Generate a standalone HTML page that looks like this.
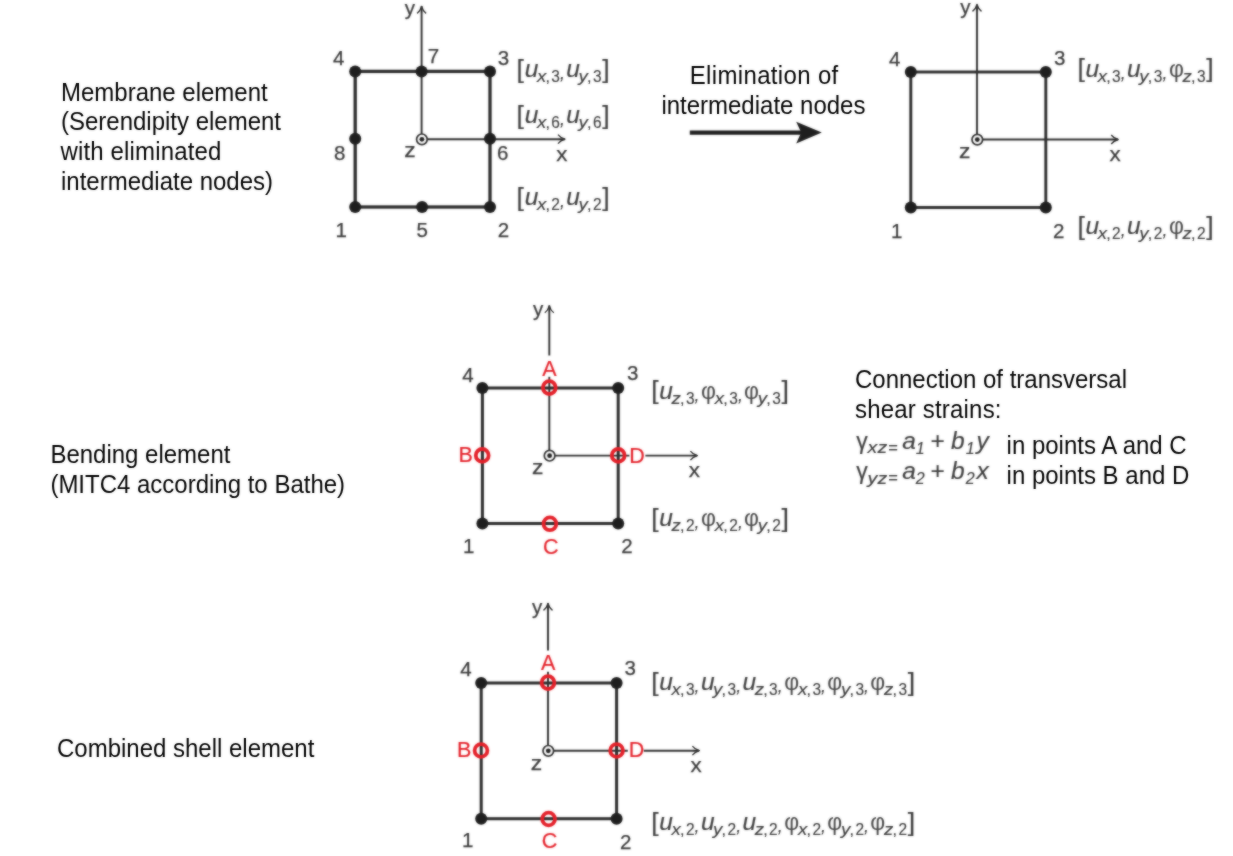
<!DOCTYPE html>
<html lang="en">
<head>
<meta charset="utf-8">
<title>Shell element formulation</title>
<style>
html,body{margin:0;padding:0;background:#ffffff;}
body{width:1233px;height:856px;overflow:hidden;font-family:"Liberation Sans",sans-serif;}
svg{display:block;position:absolute;left:0;top:0;}
svg text{font-family:"Liberation Sans",sans-serif;}
svg text[fill="#3a3a3a"]{stroke:#3a3a3a;stroke-width:0.15px;}
svg text[fill="#383838"]{stroke:#383838;stroke-width:0.25px;}
svg text[fill="#e41f28"]{stroke:#e41f28;stroke-width:0.2px;}
</style>
</head>
<body>
<svg width="1233" height="856" viewBox="0 0 1233 856">
<defs><filter id="soft" x="-2%" y="-2%" width="104%" height="104%" color-interpolation-filters="sRGB"><feGaussianBlur in="SourceGraphic" stdDeviation="0.85" result="b"/><feComposite in="b" in2="SourceGraphic" operator="arithmetic" k1="0" k2="0.6" k3="0.4" k4="0"/></filter><filter id="soft2" x="-2%" y="-2%" width="104%" height="104%" color-interpolation-filters="sRGB"><feGaussianBlur in="SourceGraphic" stdDeviation="0.85" result="b"/><feComposite in="b" in2="SourceGraphic" operator="arithmetic" k1="0" k2="0.4" k3="0.6" k4="0"/></filter></defs>
<rect x="0" y="0" width="1233" height="856" fill="#ffffff"/>
<g filter="url(#soft2)">
<text transform="translate(61.0 100.8) scale(1 1.07)" x="0" y="0" font-size="24" fill="#050505">Membrane element</text>
<text transform="translate(61.0 130.4) scale(1 1.07)" x="0" y="0" font-size="24" fill="#050505">(Serendipity element</text>
<text transform="translate(60.4 160.2) scale(1 1.07)" x="0" y="0" font-size="24" fill="#050505" textLength="161" lengthAdjust="spacing">with eliminated</text>
<text transform="translate(61.0 190.0) scale(1 1.07)" x="0" y="0" font-size="24" fill="#050505">intermediate nodes)</text>
<text transform="translate(764.0 83.8) scale(1 1.07)" x="0" y="0" font-size="24" fill="#050505" text-anchor="middle" textLength="148.5" lengthAdjust="spacing">Elimination of</text>
<text transform="translate(763.4 113.8) scale(1 1.07)" x="0" y="0" font-size="24" fill="#050505" text-anchor="middle">intermediate nodes</text>
<text transform="translate(50.4 463.0) scale(1 1.07)" x="0" y="0" font-size="24" fill="#050505">Bending element</text>
<text transform="translate(50.4 493.2) scale(1 1.07)" x="0" y="0" font-size="24" fill="#050505">(MITC4 according to Bathe)</text>
<text transform="translate(855.0 388.0) scale(1 1.07)" x="0" y="0" font-size="24" fill="#050505">Connection of transversal</text>
<text transform="translate(855.0 418.2) scale(1 1.07)" x="0" y="0" font-size="24" fill="#050505" textLength="146.5" lengthAdjust="spacing">shear strains:</text>
<text transform="translate(1006.6 453.8) scale(1 1.07)" x="0" y="0" font-size="24" fill="#050505">in points A and C</text>
<text transform="translate(1006.6 483.8) scale(1 1.07)" x="0" y="0" font-size="24" fill="#050505">in points B and D</text>
<text transform="translate(57.0 757.0) scale(1 1.07)" x="0" y="0" font-size="24" fill="#050505">Combined shell element</text>
</g>
<g filter="url(#soft)">
<line x1="421.6" y1="6" x2="421.6" y2="139.2" stroke="#2c2c2c" stroke-width="1.9"/>
<path d="M417.1 13.399999999999999 Q420.40000000000003 10.899999999999999 421.6 6.3999999999999995 Q422.8 10.899999999999999 426.1 13.399999999999999" fill="none" stroke="#2c2c2c" stroke-width="1.35" stroke-linejoin="round"/>
<line x1="421.6" y1="139.2" x2="565" y2="139.2" stroke="#2c2c2c" stroke-width="1.9"/>
<path d="M558.0 134.7 Q560.5 138.0 565.0 139.2 Q560.5 140.39999999999998 558.0 143.7" fill="none" stroke="#2c2c2c" stroke-width="1.35" stroke-linejoin="round"/>
<rect x="355.2" y="71.4" width="134.80" height="135.60" fill="none" stroke="#2b2b2b" stroke-width="3.3"/>
<circle cx="355.2" cy="71.4" r="6.0" fill="#1e1e1e"/>
<circle cx="421.6" cy="71.4" r="6.0" fill="#1e1e1e"/>
<circle cx="490.0" cy="71.4" r="6.0" fill="#1e1e1e"/>
<circle cx="355.2" cy="138.79999999999998" r="6.0" fill="#1e1e1e"/>
<circle cx="490.0" cy="138.79999999999998" r="6.0" fill="#1e1e1e"/>
<circle cx="355.2" cy="207.0" r="6.0" fill="#1e1e1e"/>
<circle cx="422.1" cy="207.0" r="6.0" fill="#1e1e1e"/>
<circle cx="490.0" cy="207.0" r="6.0" fill="#1e1e1e"/>
<circle cx="421.90000000000003" cy="139.29999999999998" r="5.3" fill="#fff" stroke="#2c2c2c" stroke-width="1.7"/>
<circle cx="421.90000000000003" cy="139.29999999999998" r="2.4" fill="#1e1e1e"/>
<text x="409.8" y="15.4" font-size="20.5" fill="#383838" text-anchor="middle">y</text>
<text x="338.6" y="65.05" font-size="20.5" fill="#383838" text-anchor="middle">4</text>
<text x="433.4" y="63.25" font-size="20.5" fill="#383838" text-anchor="middle">7</text>
<text x="503.4" y="64.85" font-size="20.5" fill="#383838" text-anchor="middle">3</text>
<text x="339.6" y="160.05" font-size="20.5" fill="#383838" text-anchor="middle">8</text>
<text x="502.8" y="160.45" font-size="20.5" fill="#383838" text-anchor="middle">6</text>
<text x="410.0" y="157.01" font-size="20.5" fill="#383838" text-anchor="middle" textLength="11.4" lengthAdjust="spacingAndGlyphs">z</text>
<text x="561.8" y="160.81" font-size="20.5" fill="#383838" text-anchor="middle" textLength="11.2" lengthAdjust="spacingAndGlyphs">x</text>
<text x="341.2" y="237.45" font-size="20.5" fill="#383838" text-anchor="middle">1</text>
<text x="422.2" y="237.45" font-size="20.5" fill="#383838" text-anchor="middle">5</text>
<text x="503.4" y="237.45" font-size="20.5" fill="#383838" text-anchor="middle">2</text>
<text x="516.60" y="77.60" font-size="26.6" fill="#3a3a3a">[</text>
<text x="524.70" y="76.8" font-size="24.5" font-style="italic" fill="#3a3a3a">u</text>
<text x="536.90" y="82.20" font-size="17.0" font-style="italic" fill="#3a3a3a" textLength="9.3" lengthAdjust="spacingAndGlyphs">x</text>
<text x="545.40" y="82.20" font-size="16.2" fill="#3a3a3a">,</text>
<text x="551.30" y="82.20" font-size="16.2" fill="#3a3a3a" textLength="8.6" lengthAdjust="spacingAndGlyphs">3</text>
<text x="560.00" y="78.80" font-size="18" font-style="italic" fill="#3a3a3a">,</text>
<text x="566.30" y="76.8" font-size="24.5" font-style="italic" fill="#3a3a3a">u</text>
<text x="578.50" y="82.20" font-size="17.0" font-style="italic" fill="#3a3a3a" textLength="9.3" lengthAdjust="spacingAndGlyphs">y</text>
<text x="587.00" y="82.20" font-size="16.2" fill="#3a3a3a">,</text>
<text x="592.90" y="82.20" font-size="16.2" fill="#3a3a3a" textLength="8.6" lengthAdjust="spacingAndGlyphs">3</text>
<text x="602.20" y="77.60" font-size="26.6" fill="#3a3a3a">]</text>
<text x="516.60" y="123.80" font-size="26.6" fill="#3a3a3a">[</text>
<text x="524.70" y="123.0" font-size="24.5" font-style="italic" fill="#3a3a3a">u</text>
<text x="536.90" y="128.40" font-size="17.0" font-style="italic" fill="#3a3a3a" textLength="9.3" lengthAdjust="spacingAndGlyphs">x</text>
<text x="545.40" y="128.40" font-size="16.2" fill="#3a3a3a">,</text>
<text x="551.30" y="128.40" font-size="16.2" fill="#3a3a3a" textLength="8.6" lengthAdjust="spacingAndGlyphs">6</text>
<text x="560.00" y="125.00" font-size="18" font-style="italic" fill="#3a3a3a">,</text>
<text x="566.30" y="123.0" font-size="24.5" font-style="italic" fill="#3a3a3a">u</text>
<text x="578.50" y="128.40" font-size="17.0" font-style="italic" fill="#3a3a3a" textLength="9.3" lengthAdjust="spacingAndGlyphs">y</text>
<text x="587.00" y="128.40" font-size="16.2" fill="#3a3a3a">,</text>
<text x="592.90" y="128.40" font-size="16.2" fill="#3a3a3a" textLength="8.6" lengthAdjust="spacingAndGlyphs">6</text>
<text x="602.20" y="123.80" font-size="26.6" fill="#3a3a3a">]</text>
<text x="516.60" y="205.80" font-size="26.6" fill="#3a3a3a">[</text>
<text x="524.70" y="205.0" font-size="24.5" font-style="italic" fill="#3a3a3a">u</text>
<text x="536.90" y="210.40" font-size="17.0" font-style="italic" fill="#3a3a3a" textLength="9.3" lengthAdjust="spacingAndGlyphs">x</text>
<text x="545.40" y="210.40" font-size="16.2" fill="#3a3a3a">,</text>
<text x="551.30" y="210.40" font-size="16.2" fill="#3a3a3a" textLength="8.6" lengthAdjust="spacingAndGlyphs">2</text>
<text x="560.00" y="207.00" font-size="18" font-style="italic" fill="#3a3a3a">,</text>
<text x="566.30" y="205.0" font-size="24.5" font-style="italic" fill="#3a3a3a">u</text>
<text x="578.50" y="210.40" font-size="17.0" font-style="italic" fill="#3a3a3a" textLength="9.3" lengthAdjust="spacingAndGlyphs">y</text>
<text x="587.00" y="210.40" font-size="16.2" fill="#3a3a3a">,</text>
<text x="592.90" y="210.40" font-size="16.2" fill="#3a3a3a" textLength="8.6" lengthAdjust="spacingAndGlyphs">2</text>
<text x="602.20" y="205.80" font-size="26.6" fill="#3a3a3a">]</text>
<line x1="977.0" y1="4.6" x2="977.0" y2="139.5" stroke="#2c2c2c" stroke-width="1.9"/>
<path d="M972.5 11.4 Q975.8 8.9 977.0 4.4 Q978.2 8.9 981.5 11.4" fill="none" stroke="#2c2c2c" stroke-width="1.35" stroke-linejoin="round"/>
<line x1="977.0" y1="139.5" x2="1118" y2="139.5" stroke="#2c2c2c" stroke-width="1.9"/>
<path d="M1111.2 135.0 Q1113.7 138.3 1118.2 139.5 Q1113.7 140.7 1111.2 144.0" fill="none" stroke="#2c2c2c" stroke-width="1.35" stroke-linejoin="round"/>
<rect x="910.8" y="72.0" width="135.00" height="135.50" fill="none" stroke="#2b2b2b" stroke-width="2.9"/>
<circle cx="910.8" cy="72.0" r="6.0" fill="#1e1e1e"/>
<circle cx="1045.8" cy="72.0" r="6.0" fill="#1e1e1e"/>
<circle cx="910.8" cy="207.5" r="6.0" fill="#1e1e1e"/>
<circle cx="1045.8" cy="207.5" r="6.0" fill="#1e1e1e"/>
<circle cx="977.3" cy="139.6" r="5.3" fill="#fff" stroke="#2c2c2c" stroke-width="1.7"/>
<circle cx="977.3" cy="139.6" r="2.4" fill="#1e1e1e"/>
<text x="965.4" y="14.4" font-size="20.5" fill="#383838" text-anchor="middle">y</text>
<text x="894.8" y="65.65" font-size="20.5" fill="#383838" text-anchor="middle">4</text>
<text x="1059.6" y="65.05" font-size="20.5" fill="#383838" text-anchor="middle">3</text>
<text x="964.8" y="158.41" font-size="20.5" fill="#383838" text-anchor="middle" textLength="11.4" lengthAdjust="spacingAndGlyphs">z</text>
<text x="1115.2" y="160.81" font-size="20.5" fill="#383838" text-anchor="middle" textLength="11.2" lengthAdjust="spacingAndGlyphs">x</text>
<text x="896.6" y="237.65" font-size="20.5" fill="#383838" text-anchor="middle">1</text>
<text x="1058.8" y="237.65" font-size="20.5" fill="#383838" text-anchor="middle">2</text>
<text x="1077.40" y="77.40" font-size="26.6" fill="#3a3a3a">[</text>
<text x="1085.50" y="76.6" font-size="24.5" font-style="italic" fill="#3a3a3a">u</text>
<text x="1097.70" y="82.00" font-size="17.0" font-style="italic" fill="#3a3a3a" textLength="9.3" lengthAdjust="spacingAndGlyphs">x</text>
<text x="1106.20" y="82.00" font-size="16.2" fill="#3a3a3a">,</text>
<text x="1112.10" y="82.00" font-size="16.2" fill="#3a3a3a" textLength="8.6" lengthAdjust="spacingAndGlyphs">3</text>
<text x="1120.80" y="78.60" font-size="18" font-style="italic" fill="#3a3a3a">,</text>
<text x="1127.10" y="76.6" font-size="24.5" font-style="italic" fill="#3a3a3a">u</text>
<text x="1139.30" y="82.00" font-size="17.0" font-style="italic" fill="#3a3a3a" textLength="9.3" lengthAdjust="spacingAndGlyphs">y</text>
<text x="1147.80" y="82.00" font-size="16.2" fill="#3a3a3a">,</text>
<text x="1153.70" y="82.00" font-size="16.2" fill="#3a3a3a" textLength="8.6" lengthAdjust="spacingAndGlyphs">3</text>
<text x="1162.40" y="78.60" font-size="18" font-style="italic" fill="#3a3a3a">,</text>
<text x="1168.90" y="76.6" font-size="23.0" fill="#444444">&#966;</text>
<text x="1182.60" y="82.00" font-size="17.0" font-style="italic" fill="#3a3a3a" textLength="9.3" lengthAdjust="spacingAndGlyphs">z</text>
<text x="1191.10" y="82.00" font-size="16.2" fill="#3a3a3a">,</text>
<text x="1197.00" y="82.00" font-size="16.2" fill="#3a3a3a" textLength="8.6" lengthAdjust="spacingAndGlyphs">3</text>
<text x="1206.30" y="77.40" font-size="26.6" fill="#3a3a3a">]</text>
<text x="1077.40" y="234.80" font-size="26.6" fill="#3a3a3a">[</text>
<text x="1085.50" y="234.0" font-size="24.5" font-style="italic" fill="#3a3a3a">u</text>
<text x="1097.70" y="239.40" font-size="17.0" font-style="italic" fill="#3a3a3a" textLength="9.3" lengthAdjust="spacingAndGlyphs">x</text>
<text x="1106.20" y="239.40" font-size="16.2" fill="#3a3a3a">,</text>
<text x="1112.10" y="239.40" font-size="16.2" fill="#3a3a3a" textLength="8.6" lengthAdjust="spacingAndGlyphs">2</text>
<text x="1120.80" y="236.00" font-size="18" font-style="italic" fill="#3a3a3a">,</text>
<text x="1127.10" y="234.0" font-size="24.5" font-style="italic" fill="#3a3a3a">u</text>
<text x="1139.30" y="239.40" font-size="17.0" font-style="italic" fill="#3a3a3a" textLength="9.3" lengthAdjust="spacingAndGlyphs">y</text>
<text x="1147.80" y="239.40" font-size="16.2" fill="#3a3a3a">,</text>
<text x="1153.70" y="239.40" font-size="16.2" fill="#3a3a3a" textLength="8.6" lengthAdjust="spacingAndGlyphs">2</text>
<text x="1162.40" y="236.00" font-size="18" font-style="italic" fill="#3a3a3a">,</text>
<text x="1168.90" y="234.0" font-size="23.0" fill="#444444">&#966;</text>
<text x="1182.60" y="239.40" font-size="17.0" font-style="italic" fill="#3a3a3a" textLength="9.3" lengthAdjust="spacingAndGlyphs">z</text>
<text x="1191.10" y="239.40" font-size="16.2" fill="#3a3a3a">,</text>
<text x="1197.00" y="239.40" font-size="16.2" fill="#3a3a3a" textLength="8.6" lengthAdjust="spacingAndGlyphs">2</text>
<text x="1206.30" y="234.80" font-size="26.6" fill="#3a3a3a">]</text>
<line x1="689.8" y1="132.6" x2="802" y2="132.6" stroke="#1e1e1e" stroke-width="4.2"/>
<path d="M821.8 132.6 L796.2 121.8 L801.2 132.6 L796.2 143.6 Z" fill="#1e1e1e"/>
<line x1="549.3" y1="305.5" x2="549.3" y2="355.5" stroke="#2c2c2c" stroke-width="1.9"/>
<path d="M544.8 312.8 Q548.0999999999999 310.3 549.3 305.8 Q550.5 310.3 553.8 312.8" fill="none" stroke="#2c2c2c" stroke-width="1.35" stroke-linejoin="round"/>
<line x1="549.3" y1="376.8" x2="549.3" y2="455.6" stroke="#2c2c2c" stroke-width="1.9"/>
<line x1="549.3" y1="455.6" x2="629.4000000000001" y2="455.6" stroke="#2c2c2c" stroke-width="1.9"/>
<line x1="645.4000000000001" y1="455.6" x2="697.0" y2="455.6" stroke="#2c2c2c" stroke-width="1.9"/>
<path d="M690.4 451.1 Q692.9 454.40000000000003 697.4 455.6 Q692.9 456.8 690.4 460.1" fill="none" stroke="#2c2c2c" stroke-width="1.35" stroke-linejoin="round"/>
<rect x="482.4" y="388.0" width="135.80" height="135.50" fill="none" stroke="#2b2b2b" stroke-width="3.0"/>
<circle cx="482.4" cy="388.0" r="6.0" fill="#1e1e1e"/>
<circle cx="618.2" cy="388.0" r="6.0" fill="#1e1e1e"/>
<circle cx="482.4" cy="523.5" r="6.0" fill="#1e1e1e"/>
<circle cx="618.2" cy="523.5" r="6.0" fill="#1e1e1e"/>
<circle cx="549.5999999999999" cy="455.70000000000005" r="5.3" fill="#fff" stroke="#2c2c2c" stroke-width="1.7"/>
<circle cx="549.5999999999999" cy="455.70000000000005" r="2.4" fill="#1e1e1e"/>
<circle cx="549.3" cy="387.6" r="6.4" fill="none" stroke="#e41f28" stroke-width="3.8"/>
<circle cx="482.2" cy="455.40000000000003" r="6.4" fill="none" stroke="#e41f28" stroke-width="3.8"/>
<circle cx="618.2" cy="455.40000000000003" r="6.4" fill="none" stroke="#e41f28" stroke-width="3.8"/>
<circle cx="549.9" cy="523.8" r="6.4" fill="none" stroke="#e41f28" stroke-width="3.8"/>
<text x="538.2" y="316.4" font-size="20.5" fill="#383838" text-anchor="middle">y</text>
<text x="549.4" y="375.6" font-size="21.5" fill="#e41f28" text-anchor="middle">A</text>
<text x="468.0" y="381.85" font-size="20.5" fill="#383838" text-anchor="middle">4</text>
<text x="632.6" y="380.25" font-size="20.5" fill="#383838" text-anchor="middle">3</text>
<text x="465.6" y="462.0" font-size="21.5" fill="#e41f28" text-anchor="middle">B</text>
<text x="637.0" y="462.6" font-size="21.5" fill="#e41f28" text-anchor="middle">D</text>
<text x="537.6" y="474.21" font-size="20.5" fill="#383838" text-anchor="middle" textLength="11.4" lengthAdjust="spacingAndGlyphs">z</text>
<text x="694.4" y="477.21" font-size="20.5" fill="#383838" text-anchor="middle" textLength="11.2" lengthAdjust="spacingAndGlyphs">x</text>
<text x="468.8" y="553.05" font-size="20.5" fill="#383838" text-anchor="middle">1</text>
<text x="550.8" y="553.6" font-size="21.5" fill="#e41f28" text-anchor="middle">C</text>
<text x="627.0" y="553.25" font-size="20.5" fill="#383838" text-anchor="middle">2</text>
<text x="651.20" y="399.40" font-size="26.6" fill="#3a3a3a">[</text>
<text x="659.30" y="398.6" font-size="24.5" font-style="italic" fill="#3a3a3a">u</text>
<text x="671.50" y="404.00" font-size="17.0" font-style="italic" fill="#3a3a3a" textLength="9.3" lengthAdjust="spacingAndGlyphs">z</text>
<text x="680.00" y="404.00" font-size="16.2" fill="#3a3a3a">,</text>
<text x="685.90" y="404.00" font-size="16.2" fill="#3a3a3a" textLength="8.6" lengthAdjust="spacingAndGlyphs">3</text>
<text x="694.60" y="400.60" font-size="18" font-style="italic" fill="#3a3a3a">,</text>
<text x="701.10" y="398.6" font-size="23.0" fill="#444444">&#966;</text>
<text x="714.80" y="404.00" font-size="17.0" font-style="italic" fill="#3a3a3a" textLength="9.3" lengthAdjust="spacingAndGlyphs">x</text>
<text x="723.30" y="404.00" font-size="16.2" fill="#3a3a3a">,</text>
<text x="729.20" y="404.00" font-size="16.2" fill="#3a3a3a" textLength="8.6" lengthAdjust="spacingAndGlyphs">3</text>
<text x="737.90" y="400.60" font-size="18" font-style="italic" fill="#3a3a3a">,</text>
<text x="744.10" y="398.6" font-size="23.0" fill="#444444">&#966;</text>
<text x="757.80" y="404.00" font-size="17.0" font-style="italic" fill="#3a3a3a" textLength="9.3" lengthAdjust="spacingAndGlyphs">y</text>
<text x="766.30" y="404.00" font-size="16.2" fill="#3a3a3a">,</text>
<text x="772.20" y="404.00" font-size="16.2" fill="#3a3a3a" textLength="8.6" lengthAdjust="spacingAndGlyphs">3</text>
<text x="781.50" y="399.40" font-size="26.6" fill="#3a3a3a">]</text>
<text x="651.20" y="526.60" font-size="26.6" fill="#3a3a3a">[</text>
<text x="659.30" y="525.8" font-size="24.5" font-style="italic" fill="#3a3a3a">u</text>
<text x="671.50" y="531.20" font-size="17.0" font-style="italic" fill="#3a3a3a" textLength="9.3" lengthAdjust="spacingAndGlyphs">z</text>
<text x="680.00" y="531.20" font-size="16.2" fill="#3a3a3a">,</text>
<text x="685.90" y="531.20" font-size="16.2" fill="#3a3a3a" textLength="8.6" lengthAdjust="spacingAndGlyphs">2</text>
<text x="694.60" y="527.80" font-size="18" font-style="italic" fill="#3a3a3a">,</text>
<text x="701.10" y="525.8" font-size="23.0" fill="#444444">&#966;</text>
<text x="714.80" y="531.20" font-size="17.0" font-style="italic" fill="#3a3a3a" textLength="9.3" lengthAdjust="spacingAndGlyphs">x</text>
<text x="723.30" y="531.20" font-size="16.2" fill="#3a3a3a">,</text>
<text x="729.20" y="531.20" font-size="16.2" fill="#3a3a3a" textLength="8.6" lengthAdjust="spacingAndGlyphs">2</text>
<text x="737.90" y="527.80" font-size="18" font-style="italic" fill="#3a3a3a">,</text>
<text x="744.10" y="525.8" font-size="23.0" fill="#444444">&#966;</text>
<text x="757.80" y="531.20" font-size="17.0" font-style="italic" fill="#3a3a3a" textLength="9.3" lengthAdjust="spacingAndGlyphs">y</text>
<text x="766.30" y="531.20" font-size="16.2" fill="#3a3a3a">,</text>
<text x="772.20" y="531.20" font-size="16.2" fill="#3a3a3a" textLength="8.6" lengthAdjust="spacingAndGlyphs">2</text>
<text x="781.50" y="526.60" font-size="26.6" fill="#3a3a3a">]</text>
<line x1="548.0" y1="603.1" x2="548.0" y2="650.5" stroke="#2c2c2c" stroke-width="1.9"/>
<path d="M543.5 610.4 Q546.8 607.9 548.0 603.4 Q549.2 607.9 552.5 610.4" fill="none" stroke="#2c2c2c" stroke-width="1.35" stroke-linejoin="round"/>
<line x1="548.0" y1="671.8" x2="548.0" y2="750.7" stroke="#2c2c2c" stroke-width="1.9"/>
<line x1="548.0" y1="750.7" x2="627.8000000000001" y2="750.7" stroke="#2c2c2c" stroke-width="1.9"/>
<line x1="643.8000000000001" y1="750.7" x2="699.0" y2="750.7" stroke="#2c2c2c" stroke-width="1.9"/>
<path d="M692.4 746.2 Q694.9 749.5 699.4 750.7 Q694.9 751.9000000000001 692.4 755.2" fill="none" stroke="#2c2c2c" stroke-width="1.35" stroke-linejoin="round"/>
<rect x="481.2" y="683.0" width="135.40" height="135.70" fill="none" stroke="#2b2b2b" stroke-width="3.0"/>
<circle cx="481.2" cy="683.0" r="6.0" fill="#1e1e1e"/>
<circle cx="616.6" cy="683.0" r="6.0" fill="#1e1e1e"/>
<circle cx="481.2" cy="818.7" r="6.0" fill="#1e1e1e"/>
<circle cx="616.6" cy="818.7" r="6.0" fill="#1e1e1e"/>
<circle cx="548.3" cy="750.8000000000001" r="5.3" fill="#fff" stroke="#2c2c2c" stroke-width="1.7"/>
<circle cx="548.3" cy="750.8000000000001" r="2.4" fill="#1e1e1e"/>
<circle cx="548.0" cy="682.6" r="6.4" fill="none" stroke="#e41f28" stroke-width="3.8"/>
<circle cx="481.0" cy="750.5" r="6.4" fill="none" stroke="#e41f28" stroke-width="3.8"/>
<circle cx="616.6" cy="750.5" r="6.4" fill="none" stroke="#e41f28" stroke-width="3.8"/>
<circle cx="548.6" cy="819.0" r="6.4" fill="none" stroke="#e41f28" stroke-width="3.8"/>
<text x="537.0" y="614.0" font-size="20.5" fill="#383838" text-anchor="middle">y</text>
<text x="548.2" y="670.0" font-size="21.5" fill="#e41f28" text-anchor="middle">A</text>
<text x="466.0" y="676.25" font-size="20.5" fill="#383838" text-anchor="middle">4</text>
<text x="630.2" y="674.85" font-size="20.5" fill="#383838" text-anchor="middle">3</text>
<text x="464.2" y="757.2" font-size="21.5" fill="#e41f28" text-anchor="middle">B</text>
<text x="636.6" y="757.4" font-size="21.5" fill="#e41f28" text-anchor="middle">D</text>
<text x="536.4" y="769.61" font-size="20.5" fill="#383838" text-anchor="middle" textLength="11.4" lengthAdjust="spacingAndGlyphs">z</text>
<text x="696.2" y="772.21" font-size="20.5" fill="#383838" text-anchor="middle" textLength="11.2" lengthAdjust="spacingAndGlyphs">x</text>
<text x="467.6" y="847.05" font-size="20.5" fill="#383838" text-anchor="middle">1</text>
<text x="549.6" y="847.6" font-size="21.5" fill="#e41f28" text-anchor="middle">C</text>
<text x="625.6" y="848.65" font-size="20.5" fill="#383838" text-anchor="middle">2</text>
<text x="651.20" y="690.80" font-size="26.6" fill="#3a3a3a">[</text>
<text x="659.30" y="690.0" font-size="24.5" font-style="italic" fill="#3a3a3a">u</text>
<text x="671.50" y="695.40" font-size="17.0" font-style="italic" fill="#3a3a3a" textLength="9.3" lengthAdjust="spacingAndGlyphs">x</text>
<text x="680.00" y="695.40" font-size="16.2" fill="#3a3a3a">,</text>
<text x="685.90" y="695.40" font-size="16.2" fill="#3a3a3a" textLength="8.6" lengthAdjust="spacingAndGlyphs">3</text>
<text x="694.60" y="692.00" font-size="18" font-style="italic" fill="#3a3a3a">,</text>
<text x="700.90" y="690.0" font-size="24.5" font-style="italic" fill="#3a3a3a">u</text>
<text x="713.10" y="695.40" font-size="17.0" font-style="italic" fill="#3a3a3a" textLength="9.3" lengthAdjust="spacingAndGlyphs">y</text>
<text x="721.60" y="695.40" font-size="16.2" fill="#3a3a3a">,</text>
<text x="727.50" y="695.40" font-size="16.2" fill="#3a3a3a" textLength="8.6" lengthAdjust="spacingAndGlyphs">3</text>
<text x="736.20" y="692.00" font-size="18" font-style="italic" fill="#3a3a3a">,</text>
<text x="742.50" y="690.0" font-size="24.5" font-style="italic" fill="#3a3a3a">u</text>
<text x="754.70" y="695.40" font-size="17.0" font-style="italic" fill="#3a3a3a" textLength="9.3" lengthAdjust="spacingAndGlyphs">z</text>
<text x="763.20" y="695.40" font-size="16.2" fill="#3a3a3a">,</text>
<text x="769.10" y="695.40" font-size="16.2" fill="#3a3a3a" textLength="8.6" lengthAdjust="spacingAndGlyphs">3</text>
<text x="777.80" y="692.00" font-size="18" font-style="italic" fill="#3a3a3a">,</text>
<text x="784.30" y="690.0" font-size="23.0" fill="#444444">&#966;</text>
<text x="798.00" y="695.40" font-size="17.0" font-style="italic" fill="#3a3a3a" textLength="9.3" lengthAdjust="spacingAndGlyphs">x</text>
<text x="806.50" y="695.40" font-size="16.2" fill="#3a3a3a">,</text>
<text x="812.40" y="695.40" font-size="16.2" fill="#3a3a3a" textLength="8.6" lengthAdjust="spacingAndGlyphs">3</text>
<text x="821.10" y="692.00" font-size="18" font-style="italic" fill="#3a3a3a">,</text>
<text x="827.30" y="690.0" font-size="23.0" fill="#444444">&#966;</text>
<text x="841.00" y="695.40" font-size="17.0" font-style="italic" fill="#3a3a3a" textLength="9.3" lengthAdjust="spacingAndGlyphs">y</text>
<text x="849.50" y="695.40" font-size="16.2" fill="#3a3a3a">,</text>
<text x="855.40" y="695.40" font-size="16.2" fill="#3a3a3a" textLength="8.6" lengthAdjust="spacingAndGlyphs">3</text>
<text x="864.10" y="692.00" font-size="18" font-style="italic" fill="#3a3a3a">,</text>
<text x="870.30" y="690.0" font-size="23.0" fill="#444444">&#966;</text>
<text x="884.00" y="695.40" font-size="17.0" font-style="italic" fill="#3a3a3a" textLength="9.3" lengthAdjust="spacingAndGlyphs">z</text>
<text x="892.50" y="695.40" font-size="16.2" fill="#3a3a3a">,</text>
<text x="898.40" y="695.40" font-size="16.2" fill="#3a3a3a" textLength="8.6" lengthAdjust="spacingAndGlyphs">3</text>
<text x="907.70" y="690.80" font-size="26.6" fill="#3a3a3a">]</text>
<text x="651.20" y="830.80" font-size="26.6" fill="#3a3a3a">[</text>
<text x="659.30" y="830.0" font-size="24.5" font-style="italic" fill="#3a3a3a">u</text>
<text x="671.50" y="835.40" font-size="17.0" font-style="italic" fill="#3a3a3a" textLength="9.3" lengthAdjust="spacingAndGlyphs">x</text>
<text x="680.00" y="835.40" font-size="16.2" fill="#3a3a3a">,</text>
<text x="685.90" y="835.40" font-size="16.2" fill="#3a3a3a" textLength="8.6" lengthAdjust="spacingAndGlyphs">2</text>
<text x="694.60" y="832.00" font-size="18" font-style="italic" fill="#3a3a3a">,</text>
<text x="700.90" y="830.0" font-size="24.5" font-style="italic" fill="#3a3a3a">u</text>
<text x="713.10" y="835.40" font-size="17.0" font-style="italic" fill="#3a3a3a" textLength="9.3" lengthAdjust="spacingAndGlyphs">y</text>
<text x="721.60" y="835.40" font-size="16.2" fill="#3a3a3a">,</text>
<text x="727.50" y="835.40" font-size="16.2" fill="#3a3a3a" textLength="8.6" lengthAdjust="spacingAndGlyphs">2</text>
<text x="736.20" y="832.00" font-size="18" font-style="italic" fill="#3a3a3a">,</text>
<text x="742.50" y="830.0" font-size="24.5" font-style="italic" fill="#3a3a3a">u</text>
<text x="754.70" y="835.40" font-size="17.0" font-style="italic" fill="#3a3a3a" textLength="9.3" lengthAdjust="spacingAndGlyphs">z</text>
<text x="763.20" y="835.40" font-size="16.2" fill="#3a3a3a">,</text>
<text x="769.10" y="835.40" font-size="16.2" fill="#3a3a3a" textLength="8.6" lengthAdjust="spacingAndGlyphs">2</text>
<text x="777.80" y="832.00" font-size="18" font-style="italic" fill="#3a3a3a">,</text>
<text x="784.30" y="830.0" font-size="23.0" fill="#444444">&#966;</text>
<text x="798.00" y="835.40" font-size="17.0" font-style="italic" fill="#3a3a3a" textLength="9.3" lengthAdjust="spacingAndGlyphs">x</text>
<text x="806.50" y="835.40" font-size="16.2" fill="#3a3a3a">,</text>
<text x="812.40" y="835.40" font-size="16.2" fill="#3a3a3a" textLength="8.6" lengthAdjust="spacingAndGlyphs">2</text>
<text x="821.10" y="832.00" font-size="18" font-style="italic" fill="#3a3a3a">,</text>
<text x="827.30" y="830.0" font-size="23.0" fill="#444444">&#966;</text>
<text x="841.00" y="835.40" font-size="17.0" font-style="italic" fill="#3a3a3a" textLength="9.3" lengthAdjust="spacingAndGlyphs">y</text>
<text x="849.50" y="835.40" font-size="16.2" fill="#3a3a3a">,</text>
<text x="855.40" y="835.40" font-size="16.2" fill="#3a3a3a" textLength="8.6" lengthAdjust="spacingAndGlyphs">2</text>
<text x="864.10" y="832.00" font-size="18" font-style="italic" fill="#3a3a3a">,</text>
<text x="870.30" y="830.0" font-size="23.0" fill="#444444">&#966;</text>
<text x="884.00" y="835.40" font-size="17.0" font-style="italic" fill="#3a3a3a" textLength="9.3" lengthAdjust="spacingAndGlyphs">z</text>
<text x="892.50" y="835.40" font-size="16.2" fill="#3a3a3a">,</text>
<text x="898.40" y="835.40" font-size="16.2" fill="#3a3a3a" textLength="8.6" lengthAdjust="spacingAndGlyphs">2</text>
<text x="907.70" y="830.80" font-size="26.6" fill="#3a3a3a">]</text>
<text x="856.2" y="448.6" font-size="23" fill="#3a3a3a">&#947;</text>
<text x="867.60" y="453.40" font-size="16" font-style="italic" fill="#3a3a3a" textLength="19.6" lengthAdjust="spacingAndGlyphs">xz</text>
<text x="888.20" y="453.00" font-size="16.5" fill="#3a3a3a">=</text>
<text x="902.20" y="448.6" font-size="24.5" font-style="italic" fill="#3a3a3a">a</text>
<text x="915.80" y="453.60" font-size="16" font-style="italic" fill="#3a3a3a">1</text>
<text x="930.60" y="448.6" font-size="24.5" fill="#3a3a3a">+</text>
<text x="951.00" y="448.6" font-size="24.5" font-style="italic" fill="#3a3a3a">b</text>
<text x="965.80" y="453.60" font-size="16" font-style="italic" fill="#3a3a3a">1</text>
<text x="976.40" y="448.6" font-size="24.5" font-style="italic" fill="#3a3a3a">y</text>
<text x="856.2" y="478.8" font-size="23" fill="#3a3a3a">&#947;</text>
<text x="867.60" y="483.60" font-size="16" font-style="italic" fill="#3a3a3a" textLength="19.6" lengthAdjust="spacingAndGlyphs">yz</text>
<text x="888.20" y="483.20" font-size="16.5" fill="#3a3a3a">=</text>
<text x="902.20" y="478.8" font-size="24.5" font-style="italic" fill="#3a3a3a">a</text>
<text x="915.80" y="483.80" font-size="16" font-style="italic" fill="#3a3a3a">2</text>
<text x="930.60" y="478.8" font-size="24.5" fill="#3a3a3a">+</text>
<text x="951.00" y="478.8" font-size="24.5" font-style="italic" fill="#3a3a3a">b</text>
<text x="965.80" y="483.80" font-size="16" font-style="italic" fill="#3a3a3a">2</text>
<text x="976.40" y="478.8" font-size="24.5" font-style="italic" fill="#3a3a3a">x</text>
</g>
</svg>
</body>
</html>
